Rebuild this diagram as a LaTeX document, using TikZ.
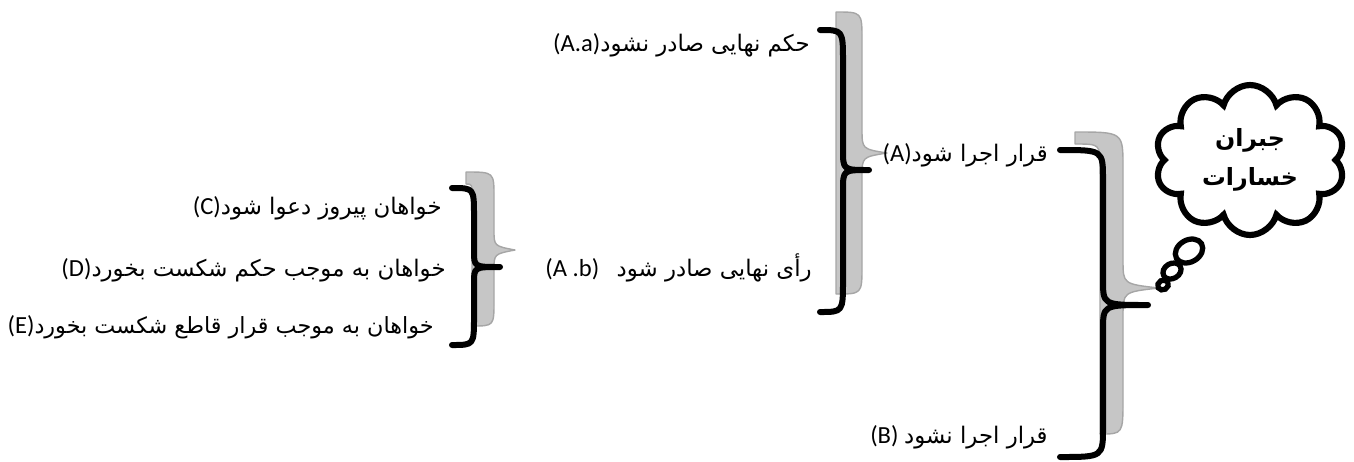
\documentclass[tikz,border=0pt]{standalone}
\usepackage{fontspec}
\setmainfont{Carlito}
\newfontfamily\arabicfont[Script=Arabic]{DejaVu Sans}
\TeXXeTstate=1
\usetikzlibrary{shapes.symbols,shapes.geometric}
% black brace: xt, yt, xv, xp, yp, yb, R, r
\newcommand\bbrace[8]{(#1,#2) .. controls (#3,#2) .. (#3,#2+#7) -- (#3,#5-#8) .. controls (#3,#5) .. (#4,#5) .. controls (#3,#5) .. (#3,#5+#8) -- (#3,#6-#7) .. controls (#3,#6) .. (#1,#6)}
% gray shadow band: xt, yt, xl, xr, xp, yp, yb, R, r
\newcommand\gbrace[9]{(#1,#2) .. controls (#4,#2) .. (#4,#2+#8) -- (#4,#6-#9) .. controls (#4,#6-4) .. (#5,#6) .. controls (#4,#6+4) .. (#4,#6+#9) -- (#4,#7-#8) .. controls (#4,#7) .. (#3,#7) -- (#3,#2+#8) .. controls (#3,#2+12) .. (#1,#2+12) -- cycle}
\tikzset{
  lbl/.style={inner sep=0pt, anchor=east, font=\fontsize{14}{16}\selectfont},
  blackbrace/.style={draw=black, line width=0.12cm, line cap=round, line join=round},
  shadowbrace/.style={draw=gray!70, fill=gray!45, line width=0.8pt, line join=round},
  bubble/.style={ellipse, draw=black, fill=white, line width=3pt, inner sep=0pt, rotate=30},
}
\newcommand\per[2][13]{{\arabicfont\fontsize{#1}{16}\selectfont\beginR #2\endR}}
\begin{document}
\begin{tikzpicture}[x=0.02cm,y=-0.02cm]
\useasboundingbox (0,0) rectangle (1354,461);
% shadows
\draw[shadowbrace] \gbrace{466}{172}{472}{494}{515}{250}{326}{25}{20};
\draw[shadowbrace] \gbrace{836}{12}{836}{862}{887}{153}{294}{28}{24};
\draw[shadowbrace] \gbrace{1075}{132}{1100}{1123}{1159}{288}{434}{35}{28};
% black braces
\draw[blackbrace] \bbrace{452}{188}{474}{500}{267}{345}{28}{16};
\draw[blackbrace] \bbrace{820}{30}{843}{869}{170}{312}{32}{20};
\draw[blackbrace] \bbrace{1060}{150}{1103}{1148}{305}{457}{30}{25};
% labels
\node[lbl] (c) at (442,208) {(C)\per{خواهان پیروز دعوا شود}};
\node[lbl] (d) at (446,270) {(D)\per{خواهان به موجب حکم شکست بخورد}};
\node[lbl] (e) at (434,327) {(E)\per[12.7]{خواهان به موجب قرار قاطع شکست بخورد}};
\node[lbl] (ab) at (812,268) {(A .b)\hspace{0.35cm}\per{رأی نهایی صادر شود}};
\node[lbl] (aa) at (810,45) {(A.a)\per{حکم نهایی صادر نشود}};
\node[lbl] (a) at (1048,155) {(A)\per{قرار اجرا شود}};
\node[lbl] (b) at (1048,437) {(B) \per{قرار اجرا نشود}};
% cloud
\node[cloud, draw=black, line width=3.5pt, fill=white, cloud puffs=10, cloud ignores aspect,
      minimum width=3.8cm, minimum height=3.0cm, align=center, inner sep=0pt,
      font=\arabicfont\bfseries\fontsize{13.5}{22}\selectfont] (cl) at (1250,160)
  {\beginR جبران\endR\\\beginR خسارات\endR};
\node[bubble, minimum width=0.58cm, minimum height=0.44cm] (b1) at (1189,251) {};
\node[bubble, minimum width=0.38cm, minimum height=0.30cm] (b2) at (1172,271) {};
\node[bubble, minimum width=0.22cm, minimum height=0.19cm] (b3) at (1163,285) {};
\end{tikzpicture}
\end{document}
